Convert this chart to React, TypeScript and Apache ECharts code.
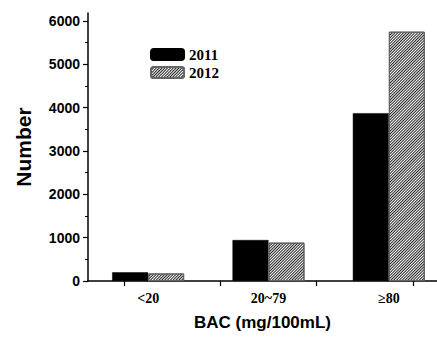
import React, { useEffect, useRef } from "react";
import * as echarts from "echarts";

const categories = ["<20", "20~79", "≥80"];
const values2011 = [200, 945, 3870];
const values2012 = [175, 885, 5750];
const yTickValues = [0, 1000, 2000, 3000, 4000, 5000, 6000];
const xTickValues = [0.8, 1.6, 2.4, 3.2];
const seriesNames = ["2011", "2012"];

export default function App() {
  const ref = useRef<HTMLDivElement>(null);
  useEffect(() => {
    if (!ref.current) return;
    const chart = echarts.init(ref.current, null, { renderer: "svg" });
    const sans = "Liberation Sans, Arial, sans-serif";
    const serif = "Liberation Serif, Times New Roman, serif";
    chart.setOption({
      animation: false,
      backgroundColor: "#ffffff",
      legend: {
        orient: "vertical",
        left: 150,
        top: 47,
        padding: 0,
        itemWidth: 33,
        itemHeight: 11,
        itemGap: 3,
        textStyle: { fontFamily: serif, fontWeight: "bold", fontSize: 15, color: "#000" },
        data: seriesNames,
      },
      grid: { left: 88, right: 0, top: 13, bottom: 56, containLabel: false },
      xAxis: [
        {
          type: "category",
          data: categories,
          position: "bottom",
          axisLine: { lineStyle: { color: "#000", width: 1.5 } },
          axisTick: { show: false },
          axisLabel: {
            fontFamily: serif,
            fontWeight: "bold",
            fontSize: 14,
            color: "#000",
            margin: 10,
          },
          name: "BAC (mg/100mL)",
          nameLocation: "middle",
          nameGap: 33,
          nameTextStyle: {
            fontFamily: sans,
            fontWeight: "bold",
            fontSize: 17,
            color: "#000",
            padding: [0, 12, 0, 0],
          },
        },
        {
          type: "value",
          min: 0.5,
          max: 3.5,
          position: "bottom",
          axisLine: { show: false },
          splitLine: { show: false },
          axisLabel: { show: false },
          axisTick: {
            show: true,
            inside: false,
            length: 5,
            customValues: xTickValues,
            lineStyle: { color: "#000", width: 1.2 },
          },
        },
      ],
      yAxis: {
        type: "value",
        min: 0,
        max: 6180,
        interval: 1000,
        axisLine: { show: true, lineStyle: { color: "#000", width: 1.5 } },
        splitLine: { show: false },
        axisTick: {
          show: true,
          length: 5,
          customValues: yTickValues,
          lineStyle: { color: "#000", width: 1.2 },
        },
        minorTick: { show: true, splitNumber: 2, length: 3, lineStyle: { color: "#000", width: 1 } },
        axisLabel: {
          customValues: yTickValues,
          formatter: (v: number) => String(v),
          fontFamily: sans,
          fontWeight: "bold",
          fontSize: 14,
          color: "#000",
          margin: 8,
        },
        name: "Number",
        nameLocation: "middle",
        nameGap: 54,
        nameTextStyle: { fontFamily: sans, fontWeight: "bold", fontSize: 21, color: "#000" },
      },
      series: [
        {
          name: seriesNames[0],
          type: "bar",
          xAxisIndex: 0,
          data: values2011,
          barWidth: 36,
          barGap: "0%",
          itemStyle: { color: "#000", borderColor: "#000", borderWidth: 0.5 },
        },
        {
          name: seriesNames[1],
          type: "bar",
          xAxisIndex: 0,
          data: values2012,
          barWidth: 36,
          barGap: "0%",
          itemStyle: {
            color: "#ffffff",
            borderColor: "#666",
            borderWidth: 1,
            decal: {
              symbol: "rect",
              symbolSize: 1,
              color: "#222",
              dashArrayX: [1, 0],
              dashArrayY: [1, 1],
              rotation: -Math.PI / 4,
            },
          },
        },
      ],
    });
    return () => chart.dispose();
  }, []);
  return (
    <div
      style={{
        position: "absolute",
        left: 0,
        top: 0,
        width: 437,
        height: 337,
        overflow: "hidden",
      }}
    >
      <div ref={ref} style={{ width: 449, height: 337 }} />
    </div>
  );
}
